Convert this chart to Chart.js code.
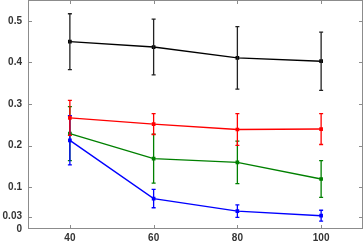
<!DOCTYPE html>
<html><head><meta charset="utf-8">
<script src="https://cdn.jsdelivr.net/npm/chart.js@4/dist/chart.umd.min.js"></script>
<style>html,body{margin:0;padding:0;background:#fff}#wrap{width:363px;height:243px}</style>
</head><body><div id="wrap"><canvas id="c" width="363" height="243"></canvas></div>
<script>
const xValues = [40, 60, 80, 100];
const xTicks = [40, 60, 80, 100];
const yTicks = [0, 0.03, 0.1, 0.2, 0.3, 0.4, 0.5];
const blackMean = [0.450, 0.437, 0.411, 0.403];
const blackErr  = [0.067, 0.067, 0.075, 0.070];
const redMean   = [0.267, 0.252, 0.239, 0.240];
const redErr    = [0.042, 0.025, 0.038, 0.037];
const blueMean  = [0.213, 0.073, 0.043, 0.032];
const blueErr   = [0.059, 0.022, 0.015, 0.013];
const greenMean = [0.229, 0.169, 0.160, 0.120];
const greenErr  = [0.065, 0.059, 0.051, 0.044];

function mk(mean, err, color, barColor){
  return {
    data: xValues.map((x,i)=>({x:x, y:mean[i]})),
    errors: err,
    borderColor: color, backgroundColor: color, barColor: barColor||color,
    borderWidth: 1.4, pointStyle:'rect', pointRadius: 1.6, pointHoverRadius:1.6,
    fill:false, tension:0
  };
}

const errorBars = {
  id:'errorBars',
  afterDatasetDraw(chart, args){
    const ds = chart.data.datasets[args.index];
    const xs = chart.scales.x, ys = chart.scales.y, ctx = chart.ctx;
    ctx.save();
    ctx.strokeStyle = ds.barColor; ctx.lineWidth = 1.3;
    ds.data.forEach((p,i)=>{
      const px = xs.getPixelForValue(p.x);
      const t = ys.getPixelForValue(p.y + ds.errors[i]);
      const b = ys.getPixelForValue(p.y - ds.errors[i]);
      ctx.beginPath();
      ctx.moveTo(px,t); ctx.lineTo(px,b);
      ctx.moveTo(px-2,t); ctx.lineTo(px+2,t);
      ctx.moveTo(px-2,b); ctx.lineTo(px+2,b);
      ctx.stroke();
    });
    ctx.restore();
  }
};

const frame = {
  id:'frame',
  beforeDatasetsDraw(chart){
    const a = chart.chartArea, ctx = chart.ctx;
    const xs = chart.scales.x, ys = chart.scales.y;
    ctx.save();
    ctx.strokeStyle = '#8c8c8c'; ctx.lineWidth = 1;
    ctx.strokeRect(a.left+0.5, a.top+0.5, a.right-a.left-1, a.bottom-a.top-1);
    ctx.beginPath();
    xTicks.forEach(v=>{
      const px = Math.round(xs.getPixelForValue(v))+0.5;
      ctx.moveTo(px,a.bottom); ctx.lineTo(px,a.bottom-4);
      ctx.moveTo(px,a.top); ctx.lineTo(px,a.top+4);
    });
    yTicks.forEach(v=>{
      if (v===0) return;
      const py = Math.round(ys.getPixelForValue(v))+0.5;
      ctx.moveTo(a.left,py); ctx.lineTo(a.left+4,py);
      ctx.moveTo(a.right,py); ctx.lineTo(a.right-4,py);
    });
    ctx.stroke();
    ctx.restore();
  }
};

function zeroPad(s){ s.paddingTop=0; s.paddingBottom=0; s.paddingLeft=0; s.paddingRight=0; }

new Chart(document.getElementById('c'), {
  type:'line',
  data:{ datasets:[
    mk(blackMean, blackErr, '#000000', '#222222'),
    mk(redMean, redErr, '#ff0000'),
    mk(blueMean, blueErr, '#0000ff'),
    mk(greenMean, greenErr, '#008000')
  ]},
  options:{
    responsive:false, animation:false,
    layout:{autoPadding:false, padding:{top:0, right:0, left:0, bottom:0}},
    plugins:{legend:{display:false}, tooltip:{enabled:false}},
    scales:{
      x:{type:'linear', min:30, max:110,
        afterBuildTicks(s){ s.ticks = xTicks.map(v=>({value:v})); },
        afterFit(s){ s.height = 14; zeroPad(s); },
        grid:{display:false, drawTicks:false}, border:{display:false},
        ticks:{color:'#333', font:{family:'Liberation Sans', size:10, weight:'bold'}, padding:3, maxRotation:0, autoSkip:false}
      },
      y:{type:'linear', min:0, max:0.55,
        afterBuildTicks(s){ s.ticks = yTicks.map(v=>({value:v})); },
        afterFit(s){ s.width = 28; zeroPad(s); },
        grid:{display:false, drawTicks:false}, border:{display:false},
        ticks:{color:'#333', font:{family:'Liberation Sans', size:10, weight:'bold'}, padding:6, autoSkip:false,
          callback:(v)=>String(v)}
      }
    }
  },
  plugins:[frame, errorBars]
});
</script></body></html>
